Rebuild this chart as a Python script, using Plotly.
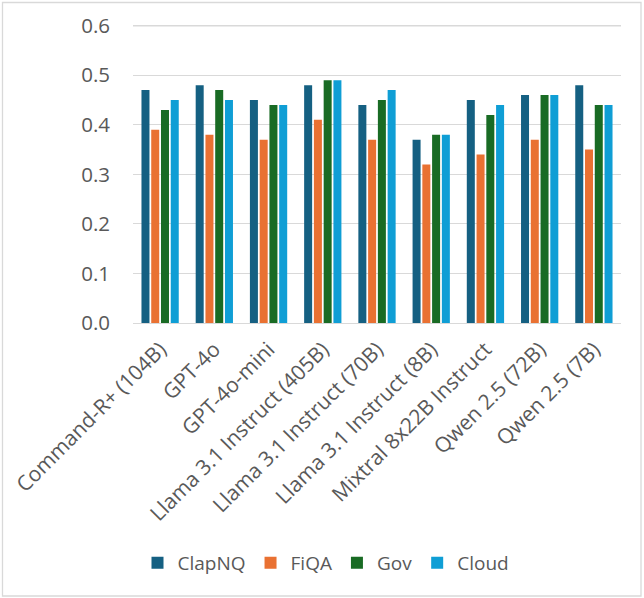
import plotly.graph_objects as go

categories = ["Command-R+ (104B)", "GPT-4o", "GPT-4o-mini", "Llama 3.1 Instruct (405B)",
              "Llama 3.1 Instruct (70B)", "Llama 3.1 Instruct (8B)", "Mixtral 8x22B Instruct",
              "Qwen 2.5 (72B)", "Qwen 2.5 (7B)"]
clapnq = [0.47, 0.48, 0.45, 0.48, 0.44, 0.37, 0.45, 0.46, 0.48]
fiqa = [0.39, 0.38, 0.37, 0.41, 0.37, 0.32, 0.34, 0.37, 0.35]
gov = [0.43, 0.47, 0.44, 0.49, 0.45, 0.38, 0.42, 0.46, 0.44]
cloud = [0.45, 0.45, 0.44, 0.49, 0.47, 0.38, 0.44, 0.46, 0.44]
y_ticks = [0.0, 0.1, 0.2, 0.3, 0.4, 0.5, 0.6]

series = [("ClapNQ", clapnq, "#156082"), ("FiQA", fiqa, "#E97132"),
          ("Gov", gov, "#196B24"), ("Cloud", cloud, "#0F9ED5")]

fig = go.Figure()
for name, vals, col in series:
    fig.add_trace(go.Bar(name=name, x=categories, y=vals, marker_color=col,
                         marker_line_width=0))

W, H = 644, 598
L, R, T, B = 133, 23, 16, 275
PW, PH = W - L - R, H - T - B
px_per_unit = (H - B - 25.7) / 0.6
ymax = 0.6 + (25.7 - T) / px_per_unit
FONT = "Open Sans"
GRID = "#D9D9D9"
fig.update_layout(
    width=W, height=H,
    margin=dict(l=L, r=R, t=T, b=B, autoexpand=False),
    paper_bgcolor="white", plot_bgcolor="white",
    barmode="group", bargap=0.28, bargroupgap=0.18,
    font=dict(family=FONT, color="#595959", size=20),
    xaxis=dict(tickangle=-45, tickfont=dict(size=21, color="#595959"),
               showline=False, showgrid=False, ticks="", ticklabelstandoff=9),
    yaxis=dict(range=[0, ymax], tickvals=y_ticks, tickformat=".1f",
               tickfont=dict(size=20.5, color="#595959"),
               showgrid=True, gridcolor=GRID, gridwidth=1.3,
               zeroline=True, zerolinecolor=GRID, zerolinewidth=1.3,
               ticks="", ticklabelstandoff=22),
    legend=dict(orientation="h", x=(326 - L) / PW, xanchor="center",
                y=(H - B - 563) / PH, yanchor="middle",
                font=dict(size=19, color="#595959"), itemwidth=30,
                traceorder="normal"),
    shapes=[dict(type="rect", xref="paper", yref="paper",
                 x0=(2.5 - L) / PW, x1=(641 - L) / PW,
                 y0=(H - B - 596) / PH, y1=(H - B - 2.5) / PH,
                 line=dict(color=GRID, width=1.3), layer="below"),
            dict(type="line", xref="paper", yref="paper", x0=0, x1=1,
                 y0=(H - B - 25.7) / PH, y1=(H - B - 25.7) / PH,
                 line=dict(color=GRID, width=1.5), layer="above")],
)
fig.write_html("out.html", config={"displayModeBar": False},
               post_script="document.body.style.margin='0';document.body.style.overflow='hidden';")
